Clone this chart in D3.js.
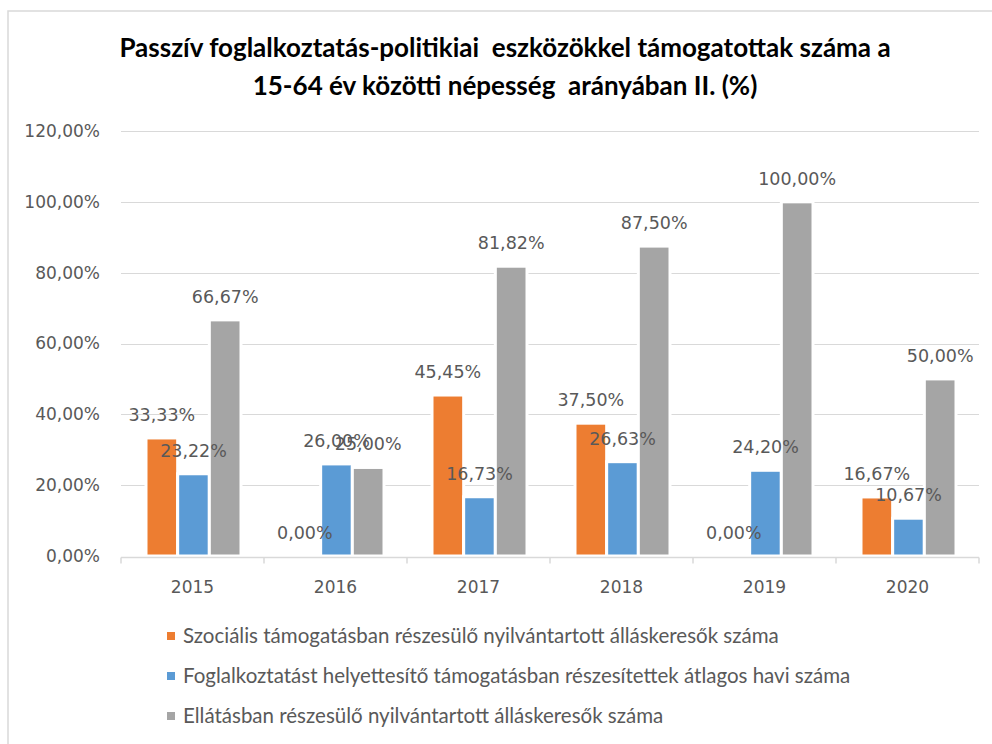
<!DOCTYPE html>
<html>
<head>
<meta charset="utf-8">
<script src="https://cdn.jsdelivr.net/npm/d3@7"></script>
<style>
  html, body { margin: 0; padding: 0; background: #fff; }
  svg { display: block; }
</style>
</head>
<body>
<svg id="chart"></svg>
<script>
// Chart data
const years = ['2015', '2016', '2017', '2018', '2019', '2020'];
const seriesNames = [
    'Szociális támogatásban részesülő nyilvántartott álláskeresők száma',
    'Foglalkoztatást helyettesítő támogatásban részesítettek átlagos havi száma',
    'Ellátásban részesülő nyilvántartott álláskeresők száma'
];
const socialValues = [33.33, 0.00, 45.45, 37.50, 0.00, 16.67];
const replacementValues = [23.22, 26.00, 16.73, 26.63, 24.20, 10.67];
const benefitValues = [66.67, 25.00, 81.82, 87.50, 100.00, 50.00];
const yTicks = [0, 20, 40, 60, 80, 100, 120];
const titleLines = [
    'Passzív foglalkoztatás-politikiai  eszközökkel támogatottak száma a',
    '15-64 év közötti népesség  arányában II. (%)'
];

const width = 992;
const height = 744;
const margin = { left: 121, right: 13, top: 131, bottom: 188 };

const svg = d3.select('#chart')
    .attr('width', width)
    .attr('height', height);

// Hungarian number format: decimal comma
const huFormat = d3.formatLocale({ decimal: ',', thousands: ' ', grouping: [3], currency: ['', ''] }).format('.2f');
const pct = v => huFormat(v) + '%';

const series = [socialValues, replacementValues, benefitValues];
const color = d3.scaleOrdinal()
    .domain(d3.range(series.length))
    .range(['#ED7D31', '#5B9BD5', '#A5A5A5']);

// Chart frame (only top and left edges visible)
svg.append('path')
    .attr('d', 'M8,744V11H992')
    .attr('fill', 'none')
    .attr('stroke', '#d9d9d9')
    .attr('stroke-width', 1.5);

// Title
svg.append('g')
    .selectAll('text')
    .data(titleLines)
    .enter().append('text')
    .attr('x', 505)
    .attr('y', (d, i) => 57 + i * 38)
    .attr('text-anchor', 'middle')
    .attr('font-family', 'Lato, sans-serif')
    .attr('font-weight', 'bold')
    .attr('font-size', 26)
    .attr('fill', '#000')
    .style('white-space', 'pre')
    .text(d => d);

// Scales
const x0 = d3.scaleBand()
    .domain(years)
    .range([margin.left, width - margin.right])
    .padding(0);

const groupW = 95;
const x1 = d3.scaleBand()
    .domain(d3.range(series.length))
    .range([(x0.bandwidth() - groupW) / 2 + 1, (x0.bandwidth() + groupW) / 2 + 1])
    .paddingInner(0);

const y = d3.scaleLinear()
    .domain([0, 120])
    .range([height - margin.bottom, margin.top]);

// Gridlines
svg.append('g')
    .selectAll('line')
    .data(yTicks.filter(t => t > 0))
    .enter().append('line')
    .attr('x1', margin.left)
    .attr('x2', width - margin.right)
    .attr('y1', d => Math.round(y(d)) + 0.5)
    .attr('y2', d => Math.round(y(d)) + 0.5)
    .attr('stroke', '#d9d9d9')
    .attr('stroke-width', 1.2);

// Y axis labels
const yAxis = d3.axisLeft(y)
    .tickValues(yTicks)
    .tickFormat(pct)
    .tickSize(0)
    .tickPadding(21);

const yg = svg.append('g')
    .attr('transform', `translate(${margin.left},0)`)
    .call(yAxis);
yg.select('.domain').remove();
yg.selectAll('text')
    .attr('font-family', 'DejaVu Sans, sans-serif')
    .attr('font-size', 17)
    .attr('fill', '#595959');

// Bars
const groups = svg.append('g')
    .selectAll('g')
    .data(years)
    .enter().append('g')
    .attr('transform', d => `translate(${x0(d)},0)`);

const barData = (d, i) => series.map((s, k) => ({ k: k, v: s[i] }));

groups.selectAll('rect')
    .data(barData)
    .enter().append('rect')
    .attr('x', d => x1(d.k))
    .attr('width', x1.bandwidth())
    .attr('y', d => y(d.v))
    .attr('height', d => y(0) - y(d.v))
    .attr('fill', d => color(d.k))
    .attr('stroke', '#fff')
    .attr('stroke-width', d => d.v > 0 ? 3 : 0);

// X axis
const xg = svg.append('g')
    .attr('transform', `translate(0,${y(0) + 1.5})`);

xg.append('line')
    .attr('x1', margin.left)
    .attr('x2', width - margin.right)
    .attr('stroke', '#d9d9d9')
    .attr('stroke-width', 1.5);

xg.selectAll('.tick-mark')
    .data(years.concat(['end']))
    .enter().append('line')
    .attr('class', 'tick-mark')
    .attr('x1', (d, i) => margin.left + i * x0.bandwidth())
    .attr('x2', (d, i) => margin.left + i * x0.bandwidth())
    .attr('y1', 0)
    .attr('y2', 6)
    .attr('stroke', '#d9d9d9')
    .attr('stroke-width', 1.5);

xg.selectAll('.year')
    .data(years)
    .enter().append('text')
    .attr('class', 'year')
    .attr('x', d => x0(d) + x0.bandwidth() / 2)
    .attr('y', 35)
    .attr('text-anchor', 'middle')
    .attr('font-family', 'DejaVu Sans, sans-serif')
    .attr('font-size', 17)
    .attr('fill', '#595959')
    .text(d => d);

// Data labels
groups.selectAll('text')
    .data(barData)
    .enter().append('text')
    .attr('x', d => x1(d.k) + x1.bandwidth() / 2)
    .attr('y', d => y(d.v) - 17)
    .attr('text-anchor', 'middle')
    .attr('font-family', 'DejaVu Sans, sans-serif')
    .attr('font-size', 17.5)
    .attr('fill', '#595959')
    .text(d => pct(d.v));

// Legend
const legend = svg.append('g')
    .selectAll('g')
    .data(seriesNames)
    .enter().append('g')
    .attr('transform', (d, i) => `translate(167,${636 + i * 40})`);

legend.append('rect')
    .attr('x', 0)
    .attr('y', -4)
    .attr('width', 8)
    .attr('height', 8)
    .attr('fill', (d, i) => color(i));

legend.append('text')
    .attr('x', 16)
    .attr('y', 7)
    .attr('font-family', 'Lato, sans-serif')
    .attr('font-size', 20.5)
    .attr('fill', '#595959')
    .text(d => d);
</script>
</body>
</html>
